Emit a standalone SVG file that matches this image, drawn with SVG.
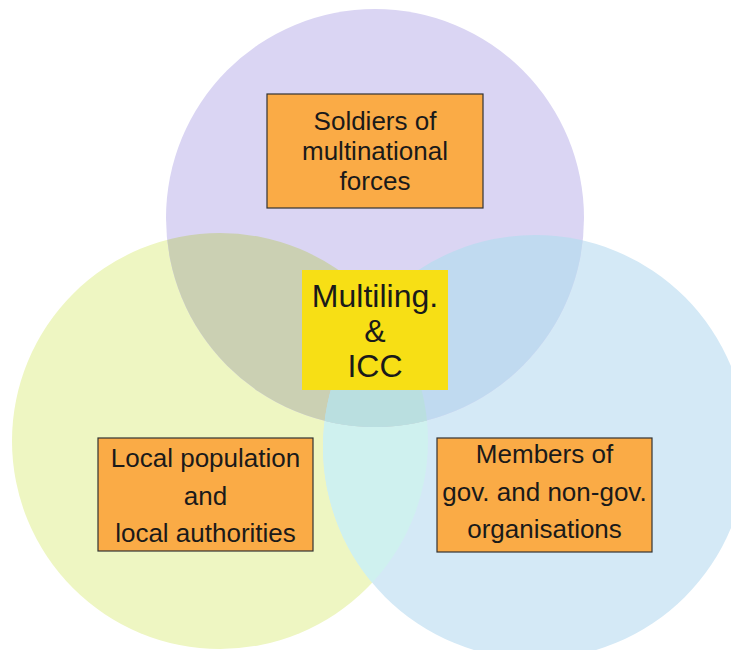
<svg xmlns="http://www.w3.org/2000/svg" width="731" height="650" viewBox="0 0 731 650">
  <style>
    .lbl { font-family: "Liberation Sans", Arial, sans-serif; font-size: 26px; fill: #1a1a1a; text-anchor: middle; }
    .big { font-size: 32px; }
    .box { fill: #FAAB46; stroke: #333333; stroke-width: 1.2; }
  </style>
  <defs>
    <clipPath id="cT"><circle cx="375" cy="218" r="209"/></clipPath>
    <clipPath id="cL"><circle cx="220" cy="441" r="208"/></clipPath>
  </defs>
  <rect width="731" height="650" fill="#ffffff"/>
  <g id="circles">
    <circle id="circle-left" cx="220" cy="441" r="208" fill="#EEF6C2"/>
    <circle id="circle-right" cx="535" cy="447" r="212" fill="#D4E9F6"/>
    <circle id="circle-top" cx="375" cy="218" r="209" fill="#DAD5F3"/>
    <circle cx="535" cy="447" r="212" fill="#CFF1EF" clip-path="url(#cL)"/>
    <circle cx="220" cy="441" r="208" fill="#CBD0B3" clip-path="url(#cT)"/>
    <circle cx="535" cy="447" r="212" fill="#C0DAF0" clip-path="url(#cT)"/>
    <g clip-path="url(#cT)">
      <circle cx="535" cy="447" r="212" fill="#BADFE0" clip-path="url(#cL)"/>
    </g>
  </g>
  <g id="node-soldiers">
    <rect class="box" x="267" y="94" width="216" height="114"/>
    <text class="lbl" x="375" y="130">Soldiers of</text>
    <text class="lbl" x="375" y="160">multinational</text>
    <text class="lbl" x="375" y="190">forces</text>
  </g>
  <g id="node-center">
    <rect x="302" y="270" width="146" height="120" fill="#F7DF15"/>
    <text class="lbl big" x="375" y="307">Multiling.</text>
    <text class="lbl big" x="375" y="342">&amp;</text>
    <text class="lbl big" x="375" y="377">ICC</text>
  </g>
  <g id="node-local">
    <rect class="box" x="98" y="438" width="215" height="113"/>
    <text class="lbl" x="205.5" y="467">Local population</text>
    <text class="lbl" x="205.5" y="505">and</text>
    <text class="lbl" x="205.5" y="542">local authorities</text>
  </g>
  <g id="node-members">
    <rect class="box" x="437" y="438" width="215" height="114"/>
    <text class="lbl" x="544.5" y="463">Members of</text>
    <text class="lbl" x="544.5" y="501">gov. and non-gov.</text>
    <text class="lbl" x="544.5" y="538">organisations</text>
  </g>
</svg>
